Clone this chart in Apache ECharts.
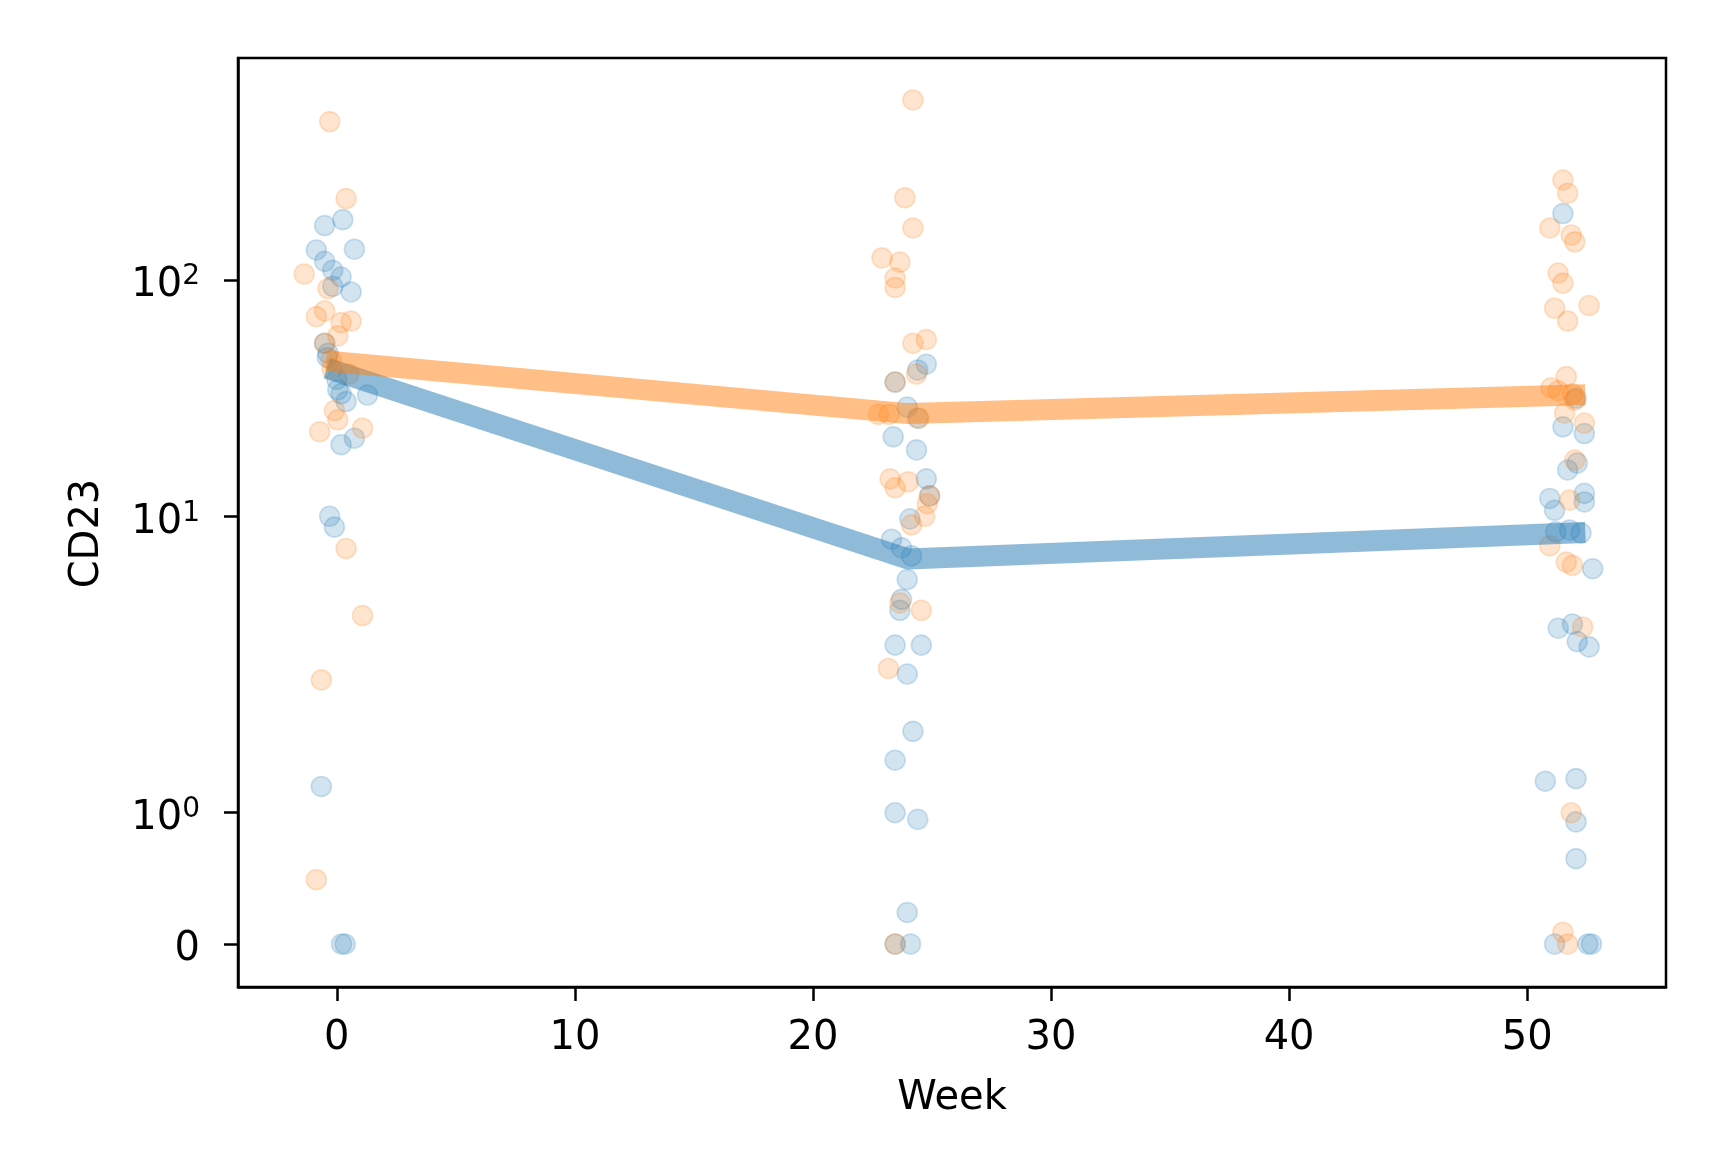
<!DOCTYPE html>
<html>
<head>
<meta charset="utf-8">
<script src="https://cdn.jsdelivr.net/npm/echarts@6/dist/echarts.min.js"></script>
<style>
html,body{margin:0;padding:0;background:#fff;}
#chart{width:1709px;height:1149px;}
</style>
</head>
<body>
<div id="chart"></div>
<script>
// ---------- data (week, CD23) ----------
const blueWeek0 = [[-0.51,170],[0.25,180],[-0.86,134],[0.74,135],[-0.51,120],[-0.17,110],[0.18,103],[0.60,89],[-0.17,94],
  [-0.51,54],[-0.37,49],[-0.4,47],[0.0,38],[0.18,33],[0.39,30.6],[1.29,32.6],[0.04,34.3],[0.18,20.1],[0.74,21.4],
  [-0.30,10.0],[-0.10,9.0],[-0.65,1.2],[0.2,0],[0.35,0]];
const orangeWeek0 = [[-0.30,468],[0.39,221],[-1.37,106],[-0.37,92],[-0.86,70],[-0.51,74],[0.60,67],[0.18,66],[-0.51,54],
  [0.04,58],[-0.24,46],[-0.2,42],[0.5,40],[-0.10,28],[0.04,25.6],[-0.72,22.8],[1.08,23.6],[0.39,7.3],[1.08,3.8],
  [-0.65,2.03],[-0.86,0.49]];
const blueWeek24 = [[24.76,44],[24.4,41.6],[23.45,37],[23.96,29],[24.4,26],[23.37,21.7],[24.35,19.1],[24.76,14.4],
  [24.9,12.2],[24.07,9.75],[23.3,8.0],[23.72,7.35],[24.14,6.8],[23.96,5.4],[23.72,4.45],[23.65,4.0],[23.45,2.85],
  [24.55,2.85],[23.96,2.15],[24.2,1.62],[23.45,1.4],[23.45,1.0],[24.4,0.95],[23.96,0.24],[24.1,0],[23.45,0]];
const orangeWeek24 = [[24.2,578],[23.86,223],[24.2,166],[22.9,124],[23.65,119],[23.45,102],[23.45,93],[24.76,56],
  [24.2,54],[24.35,40],[23.45,37],[22.75,27],[23.2,27],[24.45,26],[23.24,14.4],[23.45,13.2],[24.0,14],[24.69,10],
  [24.14,9.2],[24.8,11.3],[24.9,12.2],[23.65,4.3],[24.55,4.0],[23.17,2.27],[23.45,0]];
const blueWeek52 = [[51.5,191],[52.05,31.6],[51.5,23.9],[52.4,22.4],[51.7,15.7],[52.1,16.8],[52.4,12.5],[52.4,11.5],
  [50.95,11.9],[51.15,10.6],[51.78,8.75],[52.26,8.5],[51.2,8.6],[52.75,6.0],[51.3,3.36],[51.9,3.5],[52.1,2.95],
  [52.6,2.8],[50.76,1.24],[52.05,1.26],[52.05,0.93],[52.05,0.65],[51.15,0],[52.55,0],[52.7,0]];
const orangeWeek52 = [[51.5,265],[51.7,233],[50.95,166],[51.85,155],[52.0,145],[51.3,107],[51.5,97],[51.15,76],
  [52.6,78],[51.7,67],[51.64,39],[51.0,35],[51.3,34],[51.9,33],[52.0,31],[51.57,27.3],[52.4,24.8],[52.0,17.3],
  [51.78,11.7],[50.95,7.5],[51.64,6.4],[51.9,6.2],[52.33,3.4],[51.85,1.0],[51.5,0.09],[51.7,0]];
const lineWeeks = [0, 24, 52];
const blueLine = [41, 6.6, 8.5];
const orangeLine = [45, 27.2, 32.6];
const xTicks = [0, 10, 20, 30, 40, 50];
const yTicks = [0, 1, 10, 100];
const yTickLabels = ['0', '10{s|0}', '10{s|1}', '10{s|2}'];

// ---------- symlog transform (linthresh 2, linscale 1) ----------
const LT = 2, ADJ = 1 / (1 - 1 / 10);
function symlog(v) {
  const a = Math.abs(v);
  return a <= LT ? v * ADJ : Math.sign(v) * LT * (ADJ + Math.log10(a / LT));
}
const toPts = arr => arr.map(p => [p[0], symlog(p[1])]);
const blueScatter = toPts([].concat(blueWeek0, blueWeek24, blueWeek52));
const orangeScatter = toPts([].concat(orangeWeek0, orangeWeek24, orangeWeek52));
const blueLinePts = lineWeeks.map((w, i) => [w, symlog(blueLine[i])]);
const orangeLinePts = lineWeeks.map((w, i) => [w, symlog(orangeLine[i])]);
const yTickPos = yTicks.map(symlog);

const FONT = 'DejaVu Sans';
const FS = 40;
const BLUE = '31,119,180', ORANGE = '255,127,14';

function scatterSeries(data, c) {
  return {
    type: 'scatter', data: data, symbol: 'circle', symbolSize: 20,
    itemStyle: { color: 'rgba(' + c + ',0.25)', borderColor: 'rgba(' + c + ',0.27)', borderWidth: 1.6 },
    emphasis: { disabled: true }, silent: true
  };
}
function lineSeries(data, c) {
  return {
    type: 'line', data: data, showSymbol: false, symbol: 'none',
    lineStyle: { color: 'rgb(' + c + ')', opacity: 0.5, width: 21, cap: 'square', join: 'round' },
    emphasis: { disabled: true }, silent: true
  };
}

const chart = echarts.init(document.getElementById('chart'), null, { renderer: 'canvas' });
chart.setOption({
  animation: false,
  backgroundColor: '#fff',
  grid: { left: 238, right: 43, top: 58, bottom: 162, show: true, borderColor: '#000', borderWidth: 2.5, backgroundColor: 'transparent' },
  xAxis: {
    type: 'value', min: -4.15, max: 55.83,
    name: 'Week', nameLocation: 'middle', nameGap: 92,
    nameTextStyle: { fontFamily: FONT, fontSize: FS, color: '#000' },
    axisLine: { show: true, onZero: false, lineStyle: { color: '#000', width: 2.5 } },
    axisTick: { show: true, length: 14, lineStyle: { color: '#000', width: 2.5 }, customValues: xTicks },
    axisLabel: { fontFamily: FONT, fontSize: FS, color: '#000', margin: 32, customValues: xTicks },
    splitLine: { show: false }
  },
  yAxis: {
    type: 'value', min: -0.364, max: 7.499,
    name: 'CD23', nameLocation: 'middle', nameGap: 130, nameRotate: 90,
    nameTextStyle: { fontFamily: FONT, fontSize: FS, color: '#000', padding: [0, 22, 0, 0] },
    axisLine: { show: true, onZero: false, lineStyle: { color: '#000', width: 2.5 } },
    axisTick: { show: true, length: 14, lineStyle: { color: '#000', width: 2.5 }, customValues: yTickPos },
    axisLabel: {
      fontFamily: FONT, fontSize: FS, color: '#000', margin: 38, customValues: yTickPos,
      padding: [12, 0, 0, 0],
      formatter: function (v) {
        let best = 0, d = Infinity;
        yTickPos.forEach((p, i) => { if (Math.abs(p - v) < d) { d = Math.abs(p - v); best = i; } });
        return yTickLabels[best];
      },
      rich: { s: { fontFamily: FONT, fontSize: 28, color: '#000', padding: [0, 0, 18, 0] } }
    },
    splitLine: { show: false }
  },
  series: [
    scatterSeries(blueScatter, BLUE),
    lineSeries(blueLinePts, BLUE),
    scatterSeries(orangeScatter, ORANGE),
    lineSeries(orangeLinePts, ORANGE)
  ]
});
</script>
</body>
</html>
